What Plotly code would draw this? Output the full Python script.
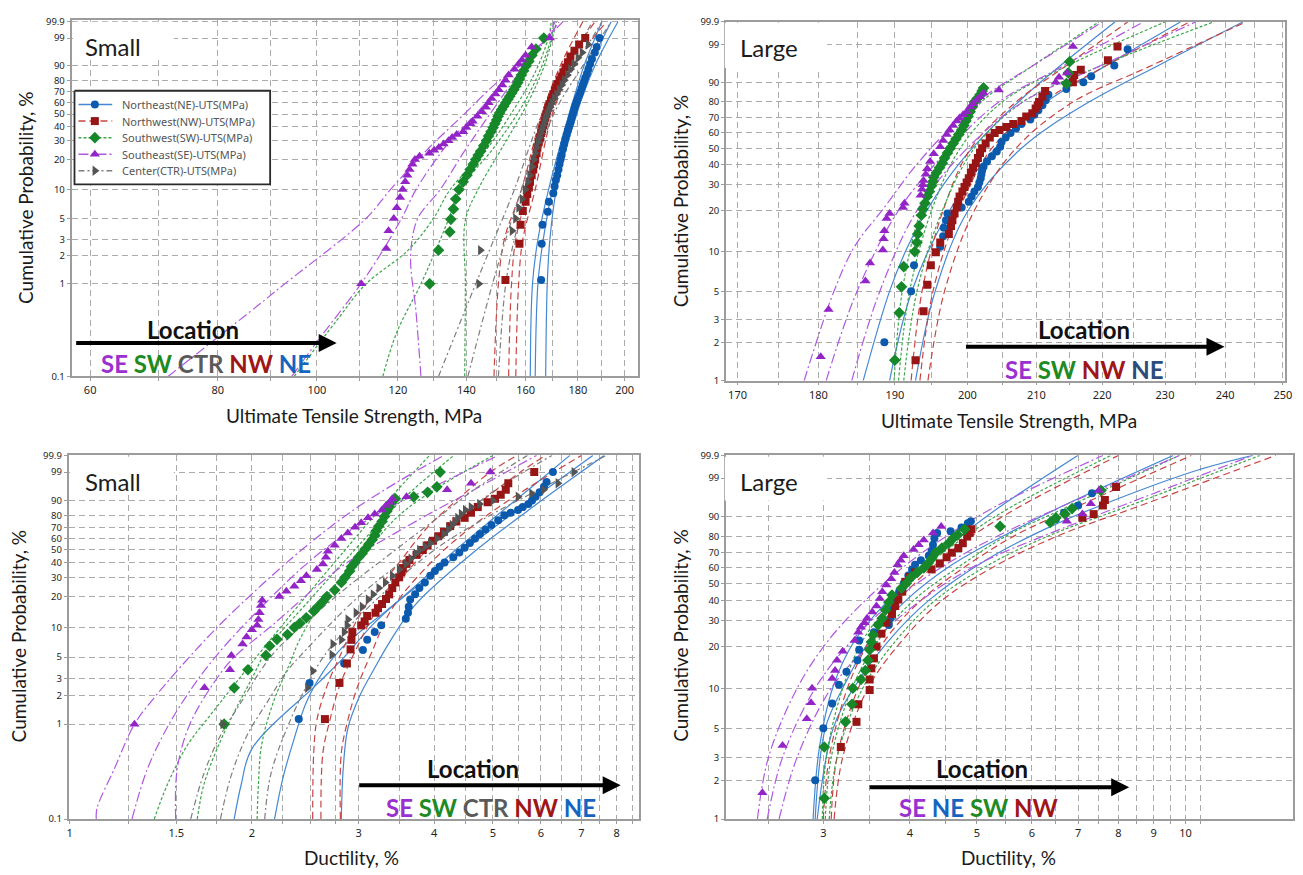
import numpy as np
import plotly.graph_objects as go

W, H = 1303, 875

# ======================= DATA =======================
# (A) Ultimate tensile strength, small castings  (x = MPa, p = cumulative %)
A_NE_x = [165.7,165.9,166.2,168.2,168.6,170.3,170.8,171.3,171.8,172.3,172.7,173.1,173.5,174,174.5,175,175.5,176,176.5,177,177.4,177.8,178.2,178.6,179,179.5,180,180.5,181,181.5,182,182.5,183,183.7,184.3,185,185.8,187,187.8,189]
A_NE_p = [1.1,2.7,4.3,5.9,7.5,9.2,10.8,12.5,14,16,18,20,22,25,28,31,34,37,40,43,46,49,52,55,58,61,64,67,70,73,76,79,82,85,88,91,93.5,96,97.5,99]
A_NW_x = [152.9,157.8,158.2,159,160,160.6,161.2,161.6,162.2,162.8,163.1,163.5,164,164.3,164.8,165.3,165.7,166.1,166.5,166.9,167.3,167.7,168,168.4,168.9,169.4,169.9,170.4,170.9,171.4,172,172.7,173.4,174.2,175,176,177,178.6,180.5,183]
A_NW_p = [1.1,2.7,4.3,6,7.5,9,10.5,12,14,16,18,20,23,26,29,32,35,38,41,44,47,50,53,56,59,62,65,68,71,74,77,80,83,86,89,92,94.5,96.5,98,99]
A_SW_x = [128.9,131.5,134.9,135.2,136,136.7,137.7,139,140.2,141.2,142.2,143,143.8,144.6,145.6,146.5,147.2,148,148.7,149.3,149.9,150.4,150.9,151.6,152.3,153,153.7,154.4,155.1,155.8,156.5,157.2,157.8,158.5,159.3,160.2,161.2,162.3,163.8,166.7]
A_SW_p = [1.0,2.3,3.6,4.9,6.3,8,10,12,14,16,18,20,22,24,27,30,33,36,39,42,45,48,51,54,57,60,63,66,69,72,75,78,81,84,87,90,92.5,95,97,99]
A_SE_x = [110.5,116.9,117.5,118.9,119.7,120.6,121.3,122,122.6,123.2,124,124.7,126,128.8,130.2,131.6,133,134.5,135.6,137,139,140,141.3,142,143.5,145,146.3,147.2,148.2,149.5,150.6,151.8,152.9,154,156,157.5,158.7,160,162.2,169]
A_SE_p = [1.0,2.4,3.7,5,6.5,8.3,10,12,14,16,18,20,21.5,23,24.5,26,28,30,32,34,36,39,42,44,48,52,56,60,64,68,72,76,80,84,88,91,93,95,97.5,99]
A_CTR_x = [144,144.5,155.2,156.4,157.5,158.7,159.8,160.8,161.5,162.3,163,163.5,164,164.6,165.1,165.6,166.1,166.6,167,167.4,167.9,168.5,169.1,169.8,170.7,171.6,172.6,173.6,174.6,175.8,177,178.5,180,181.7,184.2]
A_CTR_p = [1.0,2.3,3.7,5,6.5,8,10,12,14,17,20,23,26,29,32,35,38,41,44,47,50,53,56,60,64,68,72,76,80,84,88,91,94,96,98]
# fitted curves and bounds: (p %, x)
A_NE_lo = [(0.1,161.7),(1,162.5),(3,164.5),(10,168.5),(50,176.5),(90,182.5),(99.9,190)]
A_NE_mid = [(0.1,163.5),(1,164.5),(3,166.5),(10,170),(50,178),(90,185),(99.9,194)]
A_NE_hi = [(0.1,167.4),(1,168),(3,169),(10,171.5),(50,179.5),(90,187),(99.9,197)]
A_NW_lo = [(0.1,149),(1,150.5),(3,152.5),(10,158.5),(50,166),(90,173),(99.9,182)]
A_NW_mid = [(0.1,154),(1,155),(3,156.5),(10,161),(50,168),(90,175.5),(99.9,187)]
A_NW_hi = [(0.1,156.5),(1,157.5),(3,159),(10,163.5),(50,170),(90,178),(99.9,192)]
A_SW_lo = [(0.1,95),(0.4,104.5),(1,111.7),(2.3,122.8),(5,130),(10,135),(26,147),(56,156.3),(86,163.5),(99,168.4),(99.9,169.5)]
A_SW_mid = [(0.1,116),(0.3,119.7),(1,126.4),(2.4,130.9),(5,134.6),(10,138),(26,149),(56,158.5),(86,165),(99,169.5),(99.9,170.5)]
A_SW_hi = [(0.1,139.5),(1,139.7),(4.8,139.7),(10.4,144),(26,151.8),(62,161.2),(91,167.1),(99.9,171.5)]
A_SE_lo = [(0.1,71.5),(0.5,86),(1,93),(5,111.7),(10,118),(26,128.8),(49,139),(77,149.5),(91,158.7),(98,166),(99.9,171)]
A_SE_mid = [(0.1,94.5),(0.23,99.8),(1.2,111.7),(5,121),(10,125),(30,135),(50,143),(80,153),(95,161),(99,168),(99.9,172.5)]
A_SE_hi = [(0.1,126.4),(0.5,125),(2,123.5),(5,125.5),(10,132),(23,139),(44,146),(74,154),(93,161),(99,168),(99.9,174)]
A_CTR_lo = [(0.1,131.5),(1,143),(3,149),(10,156),(50,166),(90,176),(99.9,186)]
A_CTR_mid = [(0.1,140.5),(1,148.5),(3,153),(10,158.5),(50,168),(90,179),(99.9,190)]
A_CTR_hi = [(0.1,150.5),(1,153),(3,156),(10,161),(50,170.5),(90,182),(99.9,194)]

# (B) Ultimate tensile strength, large castings
B_NE_x = [188.6,192.2,192.6,196.2,196.6,196.7,197,197.2,199.2,200.2,200.6,201,201.5,201.7,201.9,202,202.1,202.3,202.8,203.5,204.2,204.7,204.9,205.5,206.2,207,207.8,209.1,209.7,210.3,210.9,211.4,211.8,214.5,217.1,218.3,221.9,224]
B_NE_p = [2,5,7.9,10.9,13,15,17,19,21,23,25,27,29,31,33,35,37,39,42,45,48,51,54,57,60,63,66,69,72,75,78,81,84,87,90,92.4,95.6,98.5]
B_NW_x = [192.8,193.9,194.4,194.9,195.6,196.2,197.4,197.7,197.9,198.2,198.5,198.7,198.9,199.3,199.6,199.9,200.2,200.5,200.8,201.2,201.5,201.8,202.1,202.6,203.2,203.9,204.6,205.6,206.6,207.8,208.5,209.4,209.9,210.2,210.4,210.9,211.3,215.5,215.7,216.7,220.9,222.4]
B_NW_p = [1.45,3.5,5.6,7.9,9.9,11.7,13.5,15.5,17,19,21,23,25,27,29,31,33,36,38.5,41,44,47,50,53,57,60,62,64,66,68,71,73,76,78,80,83,86,90,92.8,94.5,96.8,98.8]
B_SW_x = [190,190.6,190.9,191.2,192.7,193,193.1,193.3,193.6,193.8,194.1,194.4,194.7,195,195.2,195.3,195.7,196.1,196.5,196.8,197.2,197.6,198,198.4,198.8,199.2,199.5,199.8,200.1,200.4,200.7,201,201.4,201.8,202.1,202.3,214.5,214.8,215]
B_SW_p = [1.45,3.4,5.4,7.7,10,11.7,13.5,15.5,18.5,20.5,22.5,25,27,29.5,31.5,33.5,36,38.5,41,44,47,50,53,56,59,62,65,68,71,74,77,80,82,84,86,87.5,89.5,93.5,96.5]
B_SE_x = [180.3,181.3,186.1,186.7,188.4,188.5,188.6,188.9,189.3,191.1,191.3,193.5,193.7,193.8,193.9,194.2,194.4,194.8,195.3,196.2,196.6,197.1,197.5,198,198.5,198.9,199.4,199.9,200.4,200.8,201.3,201.8,202.3,204.5,212.9,213.4,214.6,215.5]
B_SE_p = [1.54,3.6,6,8.2,10.3,12.5,14.3,17.5,19,21,22.5,25.5,28,30,32,35,38,42,46.5,51,55,59,62,65,68,70,72,74,77,79,81,83,85,86.5,90,92,93.5,98.8]
B_NE_lo = [(1,185.8),(5,189.3),(10.5,191.6),(21,194.6),(41,198.9),(66,204),(90,210.6),(99.9,222)]
B_NE_mid = [(1,189.3),(5,192.3),(20,197.5),(50,204),(80,211.5),(95,220),(99.9,232.5)]
B_NE_hi = [(1,192.8),(5,195.5),(20,200.1),(50,207.8),(78,217.1),(96,229.4),(99.9,243)]
B_NW_lo = [(1,192.2),(5,193.7),(20,196.6),(50,200.5),(80,207),(95,214),(99.9,224)]
B_NW_mid = [(1,193.4),(5,195.2),(20,198.8),(50,203.5),(80,211),(95,220),(99.9,234)]
B_NW_hi = [(1,194.5),(5,196.8),(20,201),(50,207),(80,215.5),(95,227),(99.9,243.5)]
B_SW_lo = [(1,189.9),(5,191),(20,193.5),(50,197),(80,202),(95,209),(99.9,219.5)]
B_SW_mid = [(1,190.5),(5,192),(20,195),(50,199),(80,205),(95,214),(99.9,230)]
B_SW_hi = [(1,191.2),(5,193),(20,196.5),(50,201),(80,208),(95,219),(99.9,238)]
B_SE_lo = [(1,178.2),(5,182),(11,184.7),(21,188.6),(38.5,192.6),(61,197.1),(83,202.4),(96,209.9),(99.9,220)]
B_SE_mid = [(1,181),(5,185),(20,190.5),(50,197.5),(80,204.5),(95,213.5),(99.9,226.5)]
B_SE_hi = [(1,184.3),(5,188),(20,193),(50,200),(80,208),(95,219),(99.9,235)]

# (C) Ductility, small castings
C_NE_x = [2.39,2.49,2.84,3.05,3.10,3.19,3.27,3.59,3.62,3.63,3.65,3.72,3.78,3.86,3.94,4.01,4.08,4.16,4.3,4.4,4.49,4.58,4.67,4.76,4.86,4.97,5.1,5.22,5.35,5.5,5.6,5.72,5.8,5.88,5.97,6.07,6.13,6.28]
C_NE_p = [1.13,2.7,4.3,5.9,7.5,9,10.5,12.2,14,16,18.8,21,24,27,31,34,37,40,44,48,52,56,60,64,68,72,76,80,82,84,86,88,90,92,94,96,97.3,99]
C_NW_x = [2.64,2.79,2.87,2.91,2.92,2.93,3.03,3.07,3.1,3.2,3.23,3.28,3.33,3.37,3.41,3.45,3.5,3.53,3.55,3.6,3.64,3.74,3.83,3.9,3.98,4.06,4.15,4.25,4.35,4.49,4.6,4.72,4.9,5.04,5.15,5.25,5.3,5.85]
C_NW_p = [1.13,2.7,4.3,6,7.5,9,10.5,11.5,13,14,15.5,17,19,21,24,27,30,33,36,39,42,46,50,54,58,62,66,71,75,78,82,86,89,91,93,95,97,99]
C_SW_x = [1.8,1.87,1.97,2.11,2.14,2.2,2.29,2.35,2.4,2.46,2.53,2.57,2.62,2.66,2.74,2.81,2.85,2.9,2.92,2.96,3.0,3.04,3.08,3.12,3.16,3.19,3.21,3.24,3.28,3.31,3.34,3.37,3.4,3.45,3.7,3.9,4.04,4.09]
C_SW_p = [1,2.4,3.7,5.2,6.5,7.6,8.5,10,11,12.5,14.5,16,18,20,23,27,30,34,37,40,44,47,51,55,59,63,67,71,75,79,83,86,89,91,92,94,96,99]
C_SE_x = [1.28,1.67,1.84,1.85,1.93,1.96,2.0,2.04,2.05,2.06,2.07,2.08,2.22,2.28,2.35,2.41,2.46,2.56,2.62,2.65,2.67,2.74,2.81,2.88,2.96,3.03,3.11,3.19,3.28,3.33,3.38,3.41,3.6,4.2,4.6,4.95]
C_SE_p = [1,2.4,3.7,5.2,6.8,8,9.5,10.5,12,14,16.5,18.5,20,22.5,25,28,31,35,39,44,49,54,60,65,70,74,78,81,84,87,89,91,92,95,97,99]
C_CTR_x = [1.79,2.47,2.52,2.71,2.72,2.81,2.84,2.87,2.88,2.97,3.04,3.11,3.17,3.24,3.32,3.41,3.5,3.59,3.66,3.73,3.78,3.86,3.94,4.04,4.15,4.22,4.28,4.33,4.37,4.43,4.5,4.6,4.75,5.0,5.5,5.79,6.06,6.4,6.8]
C_CTR_p = [1,2.4,3.6,5.3,6.8,7.5,9,10.5,12,14,16,18.8,21,24,27,31,35,39,43,47,50,53,56,60,64,68,72,75,78,81,84,86,88,90,92,93.5,95,97,99]
C_NE_lo = [(0.1,1.87),(0.23,1.92),(0.55,2.0),(2.7,2.575),(5,2.84),(11,3.18),(27,3.78),(51,4.36),(80,5.08),(95,5.72),(99.9,6.7)]
C_NE_mid = [(0.1,2.18),(0.27,2.25),(0.65,2.34),(1.7,2.46),(3.5,2.62),(6,2.8),(15,3.35),(50,4.48),(80,5.34),(95,6.1),(99.9,7.31)]
C_NE_hi = [(0.1,2.81),(0.34,2.83),(0.9,2.88),(1.95,3.01),(4,3.2),(7,3.37),(17,3.73),(51,4.72),(82,5.65),(95,6.36),(99.9,7.63)]
C_NW_lo = [(0.1,2.52),(0.5,2.53),(1.1,2.56),(2.5,2.66),(5,2.79),(15,3.05),(40,3.5),(70,3.9),(90,4.35),(99,4.95),(99.9,5.48)]
C_NW_mid = [(0.1,2.6),(0.5,2.62),(1.1,2.69),(2.5,2.79),(5,2.93),(15,3.22),(40,3.72),(70,4.25),(90,4.8),(99,5.55),(99.9,6.1)]
C_NW_hi = [(0.1,2.8),(0.5,2.81),(1.1,2.88),(2.5,2.99),(5.5,3.15),(15,3.4),(40,3.95),(70,4.6),(90,5.3),(99,6.3),(99.9,7.0)]
C_SW_lo = [(0.1,1.38),(0.23,1.45),(0.6,1.565),(1.2,1.70),(2.5,1.863),(5,2.034),(20,2.455),(50,2.85),(80,3.19),(95,3.48),(99.9,3.93)]
C_SW_mid = [(0.1,1.625),(0.23,1.666),(0.55,1.752),(1.3,1.866),(3,2.0),(6,2.12),(20,2.52),(50,2.955),(80,3.336),(95,3.69),(99.9,4.31)]
C_SW_hi = [(0.1,2.04),(0.23,2.05),(0.6,2.075),(1.7,2.17),(4.3,2.31),(7.6,2.4),(20,2.65),(50,3.1),(80,3.5),(95,4.0),(99.9,5.0)]
C_SE_lo = [(0.1,1.107),(0.13,1.11),(0.34,1.186),(1,1.28),(2,1.39),(5,1.577),(12,1.806),(45,2.35),(82,2.9),(97,3.45),(99.9,4.15)]
C_SE_mid = [(0.1,1.268),(0.34,1.345),(1,1.46),(2.5,1.6),(5,1.74),(12,1.98),(45,2.55),(82,3.25),(97,4.1),(99.9,5.1)]
C_SE_hi = [(0.1,1.497),(0.34,1.506),(1,1.58),(3,1.75),(5,1.87),(10.5,2.16),(37,2.81),(72,3.64),(95.7,4.72),(99.9,5.9)]
C_CTR_lo = [(0.1,1.585),(0.3,1.666),(0.76,1.775),(1.7,1.92),(3.5,2.06),(6,2.2),(20,2.75),(50,3.45),(80,4.1),(95,4.65),(99.9,5.7)]
C_CTR_mid = [(0.1,1.775),(0.27,1.843),(0.76,1.963),(1.7,2.12),(3.5,2.28),(6,2.46),(20,3.0),(50,3.75),(80,4.45),(95,5.05),(99.9,6.26)]
C_CTR_hi = [(0.1,2.1),(0.3,2.15),(1,2.3),(3,2.5),(6,2.68),(20,3.25),(50,4.0),(80,4.95),(95,5.95),(99.9,7.7)]

# (D) Ductility, large castings
D_NE_x = [2.92,3.0,3.09,3.16,3.24,3.36,3.38,3.38,3.55,3.73,3.75,3.77,3.82,3.86,3.92,3.98,4.03,4.07,4.15,4.26,4.3,4.32,4.34,4.38,4.58,4.75,4.85,4.9,6.5,6.68,7.0,7.33]
D_NE_p = [2,5,7.7,10.6,13.2,16,19,22,25,28,31,35,40,45,50,55,59,62,65,68,71,75,79,82,83,85,87,88,89,91.5,94,97]
D_NW_x = [3.18,3.35,3.37,3.5,3.5,3.52,3.55,3.58,3.64,3.7,3.77,3.81,3.85,3.9,3.94,4.0,4.07,4.3,4.42,4.52,4.6,4.7,4.77,4.84,4.88,4.91,7.1,7.37,7.6,7.65,7.94]
D_NW_p = [3.6,5.6,7.6,9.7,11.6,14,16.5,20,24.5,29,33,37,40.5,45,51,54,57,59,63,67,70,73,76,80,82,84,89.5,91,94,95.5,98]
D_SW_x = [3.01,3.01,3.23,3.3,3.31,3.4,3.45,3.48,3.5,3.52,3.54,3.6,3.65,3.69,3.73,3.77,3.89,3.95,4.02,4.1,4.19,4.25,4.3,4.36,4.45,4.55,4.62,4.69,4.8,5.4,6.38,6.5,6.7,6.86,7.55]
D_SW_p = [1.45,3.6,5.6,7.6,10,11.6,13.5,16,19,21.5,24,28,31,35,39,43,47,50,54,57,60,63,66,70,73,76,79,81,84,85.5,87.5,89.5,91,93,97.5]
D_SE_x = [2.45,2.62,2.84,2.88,2.89,3.09,3.12,3.14,3.2,3.33,3.37,3.4,3.44,3.47,3.53,3.58,3.62,3.65,3.7,3.76,3.8,3.84,3.88,3.92,4.05,4.12,4.19,4.32,4.44,6.74,7.1,7.3,7.5]
D_SE_p = [1.6,3.7,5.9,7.8,10,11.8,13.5,16,18.5,22,25,27,29,31,34,37,41,45,49,53,57,62,65,68,72,75,78,82,85.5,88,91,94.5,97.5]
D_NE_lo = [(1,2.9),(3.5,2.96),(10.3,3.1),(22,3.33),(40.5,3.73),(62,4.2),(80.7,4.75),(93.5,5.39),(99.9,6.99)]
D_NE_mid = [(1,2.92),(5,3.02),(10,3.2),(22,3.5),(40,3.95),(62,4.6),(81,5.5),(93.5,6.6),(99.9,9.6)]
D_NE_hi = [(1,2.94),(5,3.1),(10.3,3.33),(22,3.73),(40,4.26),(66,5.19),(86,6.44),(96,8.04),(99.5,10.4),(99.9,12.5)]
D_NW_lo = [(1,3.0),(3,3.06),(10,3.25),(22,3.5),(40,3.85),(62,4.35),(81,4.95),(93.5,5.75),(99.9,8.0)]
D_NW_mid = [(1,3.08),(3,3.14),(10,3.37),(22,3.68),(40,4.15),(62,4.85),(81,5.7),(93.5,6.95),(99.9,10.2)]
D_NW_hi = [(1,3.11),(3,3.2),(10,3.48),(22,3.9),(40,4.45),(62,5.35),(81,6.6),(93.5,8.5),(99.9,13.5)]
D_SW_lo = [(1,2.99),(3,3.03),(10,3.2),(22,3.42),(40,3.78),(62,4.25),(81,4.85),(93.5,5.6),(99.9,7.8)]
D_SW_mid = [(1,3.02),(3,3.08),(10,3.3),(22,3.6),(40,4.05),(62,4.75),(81,5.55),(93.5,6.75),(99.9,9.8)]
D_SW_hi = [(1,3.06),(3,3.14),(10,3.42),(22,3.82),(40,4.35),(62,5.2),(81,6.4),(93.5,8.2),(99.9,12.8)]
D_SE_lo = [(1,2.41),(3,2.5),(10,2.75),(22,3.05),(40,3.45),(62,3.95),(81,4.55),(93.5,5.3),(99.9,7.6)]
D_SE_mid = [(1,2.49),(3,2.62),(10,2.92),(22,3.3),(40,3.8),(62,4.5),(81,5.4),(93.5,6.6),(99.9,9.8)]
D_SE_hi = [(1,2.59),(3,2.75),(10,3.08),(22,3.55),(40,4.15),(62,5.0),(81,6.3),(93.5,8.0),(99.9,12.5)]

# tick / grid values
PROB_TICKS_SMALL = [0.1,1,2,3,5,10,20,30,40,50,60,70,80,90,99,99.9]
PROB_TICKS_LARGE = [1,2,3,5,10,20,30,40,50,60,70,80,90,99,99.9]
A_XGRID = [60,70,80,90,100,110,120,130,140,150,160,170,180,190,200]
A_XLAB = [60,80,100,120,140,160,180,200]
B_XGRID = [170,175,180,185,190,195,200,205,210,215,220,225,230,235,240,245,250]
B_XLAB = [170,180,190,200,210,220,230,240,250]
C_XGRID = [1,1.25,1.5,1.75,2,2.25,2.5,2.75,3,3.5,4,4.5,5,5.5,6,6.5,7,7.5,8,8.5]
C_XLAB = [1,1.5,2,3,4,5,6,7,8]
D_XGRID = [2.5,3,3.5,4,4.5,5,5.5,6,6.5,7,7.5,8,8.5,9,9.5,10,10.5]
D_XLAB = [3,4,5,6,7,8,9,10]

LEG_KEYS = ['NE', 'NW', 'SW', 'SE', 'CTR']
LEG_NAMES = ['Northeast(NE)-UTS(MPa)', 'Northwest(NW)-UTS(MPa)', 'Southwest(SW)-UTS(MPa)',
             'Southeast(SE)-UTS(MPa)', 'Center(CTR)-UTS(MPa)']

# ======================= STYLE =======================
STY = {
    'NE':  dict(mc='#0c5aae', lc='#4588d2', sym='circle',         dash='solid',            size=8),
    'NW':  dict(mc='#981515', lc='#c84444', sym='square',         dash='7px,4px',          size=8),
    'SW':  dict(mc='#16882a', lc='#3aa648', sym='diamond',        dash='3px,2px',          size=9),
    'SE':  dict(mc='#9325c6', lc='#b058e0', sym='triangle-up',    dash='10px,3px,2px,3px', size=9),
    'CTR': dict(mc='#545454', lc='#7e7e7e', sym='triangle-right', dash='6px,3px,2px,3px',  size=9),
}
TXT = {'SE': '#9b30d0', 'SW': '#1e8a22', 'CTR': '#5a5a5a', 'NW': '#a01515', 'NE': '#1565c0'}


def wb(p):
    """Weibull probability-paper scale."""
    p = np.asarray(p, dtype=float) / 100.0
    return np.log(-np.log(1.0 - p))


fig = go.Figure()


def add_curve(pairs, key, xa, ya):
    s = STY[key]
    p = [a for a, _ in pairs]
    x = [b for _, b in pairs]
    fig.add_trace(go.Scatter(x=x, y=wb(p), mode='lines', xaxis=xa, yaxis=ya,
                             line=dict(color=s['lc'], width=1.2, dash=s['dash'], shape='spline', smoothing=1.0),
                             showlegend=False, hoverinfo='skip'))


def add_pts(x, p, key, xa, ya):
    s = STY[key]
    fig.add_trace(go.Scatter(x=x, y=wb(p), mode='markers', xaxis=xa, yaxis=ya,
                             marker=dict(color=s['mc'], symbol=s['sym'], size=s['size'], line=dict(width=0)),
                             showlegend=False, hoverinfo='skip'))


panels = [
    ('x', 'y', {
        'NE': (A_NE_x, A_NE_p, [A_NE_lo, A_NE_mid, A_NE_hi]),
        'NW': (A_NW_x, A_NW_p, [A_NW_lo, A_NW_mid, A_NW_hi]),
        'SW': (A_SW_x, A_SW_p, [A_SW_lo, A_SW_mid, A_SW_hi]),
        'SE': (A_SE_x, A_SE_p, [A_SE_lo, A_SE_mid, A_SE_hi]),
        'CTR': (A_CTR_x, A_CTR_p, [A_CTR_lo, A_CTR_mid, A_CTR_hi]),
    }),
    ('x2', 'y2', {
        'NE': (B_NE_x, B_NE_p, [B_NE_lo, B_NE_mid, B_NE_hi]),
        'NW': (B_NW_x, B_NW_p, [B_NW_lo, B_NW_mid, B_NW_hi]),
        'SW': (B_SW_x, B_SW_p, [B_SW_lo, B_SW_mid, B_SW_hi]),
        'SE': (B_SE_x, B_SE_p, [B_SE_lo, B_SE_mid, B_SE_hi]),
    }),
    ('x3', 'y3', {
        'NE': (C_NE_x, C_NE_p, [C_NE_lo, C_NE_mid, C_NE_hi]),
        'NW': (C_NW_x, C_NW_p, [C_NW_lo, C_NW_mid, C_NW_hi]),
        'SW': (C_SW_x, C_SW_p, [C_SW_lo, C_SW_mid, C_SW_hi]),
        'SE': (C_SE_x, C_SE_p, [C_SE_lo, C_SE_mid, C_SE_hi]),
        'CTR': (C_CTR_x, C_CTR_p, [C_CTR_lo, C_CTR_mid, C_CTR_hi]),
    }),
    ('x4', 'y4', {
        'NE': (D_NE_x, D_NE_p, [D_NE_lo, D_NE_mid, D_NE_hi]),
        'NW': (D_NW_x, D_NW_p, [D_NW_lo, D_NW_mid, D_NW_hi]),
        'SW': (D_SW_x, D_SW_p, [D_SW_lo, D_SW_mid, D_SW_hi]),
        'SE': (D_SE_x, D_SE_p, [D_SE_lo, D_SE_mid, D_SE_hi]),
    }),
]

for xa, ya, ser in panels:
    for key, (_, _, curves) in ser.items():
        for c in curves:
            add_curve(c, key, xa, ya)
    for key, (xs, ps, _) in ser.items():
        add_pts(xs, ps, key, xa, ya)

# ---- hand-laid legend (top-left panel) on a pixel overlay axis ----
LEG_BOX = (73, 85, 270, 180)      # left, top, right, bottom (px)
LEG_ROW0, LEG_DY = 99, 16.8
fig.add_trace(go.Scatter(x=[LEG_BOX[0], LEG_BOX[2], LEG_BOX[2], LEG_BOX[0], LEG_BOX[0]],
                         y=[LEG_BOX[1], LEG_BOX[1], LEG_BOX[3], LEG_BOX[3], LEG_BOX[1]],
                         mode='lines', fill='toself', fillcolor='white',
                         line=dict(color='#2a2a2a', width=1.8),
                         xaxis='x5', yaxis='y5', showlegend=False, hoverinfo='skip'))
for i, key in enumerate(LEG_KEYS):
    s = STY[key]
    yy = LEG_ROW0 + i * LEG_DY
    fig.add_trace(go.Scatter(x=[77, 111], y=[yy, yy], mode='lines', xaxis='x5', yaxis='y5',
                             line=dict(color=s['lc'], width=1.5, dash=s['dash']),
                             showlegend=False, hoverinfo='skip'))
    fig.add_trace(go.Scatter(x=[93.5], y=[yy], mode='markers', xaxis='x5', yaxis='y5',
                             marker=dict(color=s['mc'], symbol=s['sym'], size=s['size']),
                             showlegend=False, hoverinfo='skip'))

GRID = '#ababab'
FRAME = '#9c9c9c'
XTICKFONT = dict(family='Noto Sans, Open Sans, sans-serif', size=11, color='#1e1e1e')
YTICKFONT = dict(family='Noto Sans, Open Sans, sans-serif', size=9.5, color='#1e1e1e')


def xaxis_cfg(domain, rng, grid, labels, anchor):
    return dict(type='log', domain=domain, range=rng, anchor=anchor,
                tickmode='array', tickvals=grid,
                ticktext=[(('%g' % v) if v in labels else '') for v in grid],
                showgrid=True, gridcolor=GRID, griddash='6px,4px', gridwidth=1,
                showline=True, mirror=True, linecolor=FRAME, linewidth=1.6,
                ticks='outside', ticklen=3, tickcolor=FRAME, tickfont=XTICKFONT,
                zeroline=False, fixedrange=True)


def yaxis_cfg(domain, rng, ticks, anchor):
    return dict(domain=domain, range=rng, anchor=anchor,
                tickmode='array', tickvals=list(wb(ticks)), ticktext=['%g' % t for t in ticks],
                showgrid=True, gridcolor=GRID, griddash='6px,4px', gridwidth=1,
                showline=True, mirror=True, linecolor=FRAME, linewidth=1.6,
                ticks='outside', ticklen=3, tickcolor=FRAME, tickfont=YTICKFONT,
                zeroline=False, fixedrange=True)


def px_x(v):
    return v / W


def px_y(v):
    return 1 - v / H


top99 = float(wb(99.9))
fig.update_layout(
    xaxis=xaxis_cfg([px_x(70), px_x(640)], [1.75993, 2.31366], A_XGRID, A_XLAB, 'y'),
    yaxis=yaxis_cfg([px_y(375), px_y(13.3)], [float(wb(0.1)), 1.975], PROB_TICKS_SMALL, 'x'),
    xaxis2=xaxis_cfg([px_x(729), px_x(1292)], [2.2269, 2.3986], B_XGRID, B_XLAB, 'y2'),
    yaxis2=yaxis_cfg([px_y(379.3), px_y(15)], [float(wb(1)), top99 + 0.004], PROB_TICKS_LARGE, 'x2'),
    xaxis3=xaxis_cfg([px_x(67), px_x(641.7)], [-0.00164, 0.9405], C_XGRID, C_XLAB, 'y3'),
    yaxis3=yaxis_cfg([px_y(824.3), px_y(455)], [float(wb(0.1)), top99 + 0.004], PROB_TICKS_SMALL, 'x3'),
    xaxis4=xaxis_cfg([px_x(729), px_x(1300)], [0.3366, 1.1553], D_XGRID, D_XLAB, 'y4'),
    yaxis4=yaxis_cfg([px_y(824.3), px_y(455)], [float(wb(1)), top99 + 0.004], PROB_TICKS_LARGE, 'x4'),
    xaxis5=dict(domain=[0, 1], range=[0, W], anchor='y5', visible=False, fixedrange=True),
    yaxis5=dict(domain=[0, 1], range=[H, 0], anchor='x5', visible=False, fixedrange=True),
)

# white boxes behind the "Small"/"Large" labels
shapes = []
for (x0, y0, x1, y1) in [(71.5, 15, 173, 50), (727.8, 16, 831, 62), (68.5, 456.5, 173, 490), (727.8, 456.5, 831, 501)]:
    shapes.append(dict(type='rect', xref='paper', yref='paper', x0=px_x(x0), x1=px_x(x1), y0=px_y(y1), y1=px_y(y0),
                       fillcolor='white', line=dict(width=0), layer='above'))

ann = []
LBL_FONT = 'Lato, Carlito, Noto Sans, sans-serif'
for txt, x, y in [('Small', 82, 40), ('Large', 741, 41), ('Small', 82, 482), ('Large', 741, 482)]:
    ann.append(dict(text=txt, x=px_x(x), y=px_y(y), xref='paper', yref='paper', xanchor='left', yanchor='middle',
                    showarrow=False, font=dict(family=LBL_FONT, size=24, color='#1c1c1c')))

# legend texts
for i, name in enumerate(LEG_NAMES):
    ann.append(dict(text=name, x=px_x(119), y=px_y(LEG_ROW0 + i * LEG_DY), xref='paper', yref='paper',
                    xanchor='left', yanchor='middle', showarrow=False,
                    font=dict(family='Noto Sans, Open Sans, sans-serif', size=11, color='#555555')))

# axis titles
for txt, x, y, ang in [
    ('Ultimate Tensile Strength, MPa', 354, 415, 0), ('Cumulative Probability, %', 23, 194, -90),
    ('Ultimate Tensile Strength, MPa', 1014, 420, 0), ('Cumulative Probability, %', 683, 197, -90),
    ('Ductility, %', 351.5, 863, 0), ('Cumulative Probability, %', 17, 639, -90),
    ('Ductility, %', 1014, 863, 0), ('Cumulative Probability, %', 683, 638, -90)]:
    ann.append(dict(text=txt, x=px_x(x), y=px_y(y), xref='paper', yref='paper', xanchor='center', yanchor='middle',
                    textangle=ang, showarrow=False, font=dict(family=LBL_FONT, size=19, color='#1a1a1a')))

# "Location" arrows
LOC = [
    ((192, 327), (75, 337, 341), (205, 362), ['SE', 'SW', 'CTR', 'NW', 'NE']),
    ((1090, 327), (971, 1231, 345), (1090, 368), ['SE', 'SW', 'NW', 'NE']),
    ((474, 773), (360, 623, 790), (492, 813), ['SE', 'SW', 'CTR', 'NW', 'NE']),
    ((987, 773), (874, 1135, 792), (983, 813), ['SE', 'NE', 'SW', 'NW']),
]
for (lx, ly), (ax0, ax1, ay), (tx, ty), order in LOC:
    ann.append(dict(text='<b>Location</b>', x=px_x(lx), y=px_y(ly), xref='paper', yref='paper',
                    xanchor='center', yanchor='middle', showarrow=False,
                    font=dict(family=LBL_FONT, size=24, color='#111111')))
    ann.append(dict(text='', x=px_x(ax1), y=px_y(ay), xref='paper', yref='paper', showarrow=True,
                    ax=-(ax1 - ax0), ay=0, axref='pixel', ayref='pixel', arrowhead=2, arrowsize=0.9,
                    arrowwidth=4, arrowcolor='#000000', standoff=0))
    colors = dict(TXT)
    if len(order) == 4 and order[1] == 'SW':
        colors['NE'] = '#2c4c7c'
    label = ' '.join("<span style='color:%s'>%s</span>" % (colors[k], k) for k in order)
    ann.append(dict(text='<b>' + label + '</b>', x=px_x(tx), y=px_y(ty), xref='paper', yref='paper',
                    xanchor='center', yanchor='middle', showarrow=False,
                    font=dict(family=LBL_FONT, size=24, color='#111111')))

fig.update_layout(
    width=W, height=H, margin=dict(l=0, r=0, t=0, b=0),
    paper_bgcolor='white', plot_bgcolor='rgba(0,0,0,0)',
    shapes=shapes, annotations=ann,
    showlegend=False,
)

fig.write_html('out.html')
